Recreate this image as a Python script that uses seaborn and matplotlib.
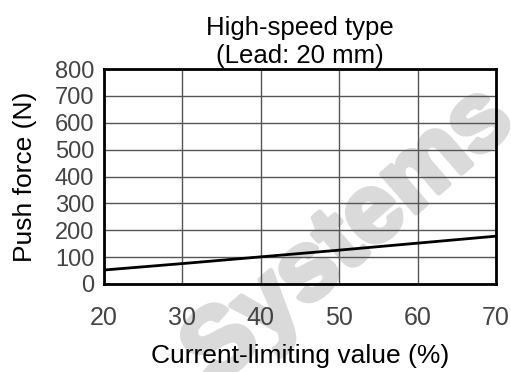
import matplotlib
matplotlib.use("Agg")
import matplotlib.pyplot as plt
import matplotlib.patheffects as pe
import seaborn as sns
import pandas as pd

current_limit = [20, 30, 40, 50, 60, 70]
push_force = [52, 76, 101, 126, 152, 178]
x_ticks = [20, 30, 40, 50, 60, 70]
y_ticks = [0, 100, 200, 300, 400, 500, 600, 700, 800]

sns.set_theme(style="white")
plt.rcParams['font.family'] = ['Liberation Sans', 'DejaVu Sans']

df = pd.DataFrame({"x": current_limit, "y": push_force})

fig = plt.figure(figsize=(5.11, 3.72), dpi=100)
ax = fig.add_axes([104/511, 1-284/372, (496-104)/511, (284-69)/372])

ax.set_axisbelow(True)
ax.grid(True, color="#555555", linewidth=1.0)
sns.lineplot(data=df, x="x", y="y", ax=ax, color="black", linewidth=2.0, zorder=3)

ax.set_xlim(20, 70)
ax.set_ylim(0, 800)
ax.set_xticks(x_ticks)
ax.set_yticks(y_ticks)
ax.tick_params(axis="x", length=0, pad=16, labelsize=18, labelcolor="#444444")
ax.tick_params(axis="y", length=0, pad=7, labelsize=17, labelcolor="#444444")
for s in ax.spines.values():
    s.set_visible(True)
    s.set_color("black")
    s.set_linewidth(2.0)

ax.set_xlabel("Current-limiting value (%)", fontsize=19, color="black", labelpad=10)
ax.set_ylabel("Push force (N)", fontsize=19, color="black", labelpad=13)
ax.set_title("High-speed type\n(Lead: 20 mm)", fontsize=18.5, color="black", pad=4, linespacing=1.25)

ax.text(366/511, 1-256/372, "Systems", transform=fig.transFigure, fontsize=70,
        fontweight="bold", color="#dadada", rotation=41, ha="center", va="baseline",
        rotation_mode="anchor", zorder=0.5, clip_on=False,
        path_effects=[pe.withStroke(linewidth=4, foreground="#dadada")])
ax.patch.set_alpha(0)

fig.savefig("out.png", dpi=100)
